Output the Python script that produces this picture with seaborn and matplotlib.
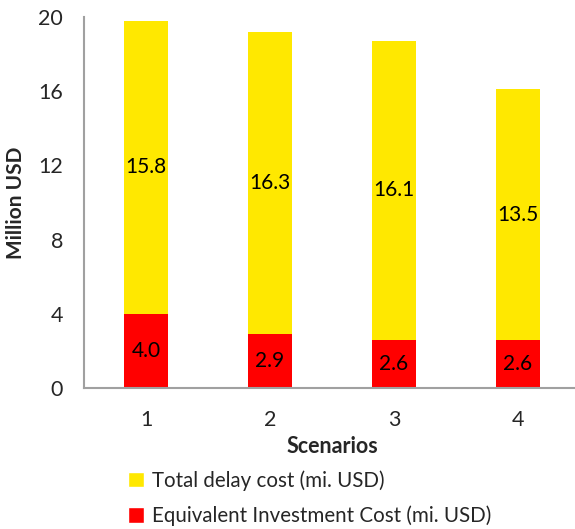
import matplotlib
matplotlib.use("Agg")
import matplotlib.pyplot as plt
import seaborn as sns
import pandas as pd
from matplotlib.patches import Patch

scenarios = ["1", "2", "3", "4"]
investment = [4.0, 2.9, 2.6, 2.6]
delay = [15.8, 16.3, 16.1, 13.5]
yticks = [0, 4, 8, 12, 16, 20]

YELLOW = "#FFE800"
RED = "#FF0000"

sns.set_theme(style="white")
plt.rcParams["font.family"] = ["Lato", "DejaVu Sans"]

df = pd.DataFrame({"Scenario": scenarios, "Investment": investment, "Delay": delay})
df["Total"] = df["Investment"] + df["Delay"]

fig = plt.figure(figsize=(5.75, 5.29), dpi=100)
ax = fig.add_axes([84/575, (529-388)/529, 496/575, 371/529])

sns.barplot(data=df, x="Scenario", y="Total", color=YELLOW, width=0.355,
            saturation=1, ax=ax, linewidth=0)
sns.barplot(data=df, x="Scenario", y="Investment", color=RED, width=0.355,
            saturation=1, ax=ax, linewidth=0)

for i, (inv, dl) in enumerate(zip(investment, delay)):
    ax.text(i, inv/2, f"{inv:.1f}", ha="center", va="center", fontsize=15, color="black")
    ax.text(i, inv + dl/2, f"{dl:.1f}", ha="center", va="center", fontsize=15, color="black")

ax.set_ylim(0, 20)
ax.set_xlim(-0.5, 3.5)
ax.set_yticks(yticks)
ax.set_yticklabels([str(t) for t in yticks], fontsize=15.5)
ax.tick_params(axis="x", labelsize=15.5, length=0, pad=16)
ax.tick_params(axis="y", length=0, pad=15)
ax.set_xlabel("Scenarios", fontsize=15.5, fontweight="bold", labelpad=4)
ax.set_ylabel("Million USD", fontsize=15, fontweight="bold", labelpad=9)
for s in ["top", "right"]:
    ax.spines[s].set_visible(False)
for s in ["left", "bottom"]:
    ax.spines[s].set_color("#A0A0A0")
    ax.spines[s].set_linewidth(1.5)

handles = [Patch(facecolor=YELLOW, label="Total delay cost (mi. USD)"),
           Patch(facecolor=RED, label="Equivalent Investment Cost (mi. USD)")]
fig.legend(handles=handles, loc="upper left", bbox_to_anchor=(128/575, 1 - 470/529),
           frameon=False, fontsize=14.8, handlelength=0.8, handleheight=0.8,
           handletextpad=0.35, labelspacing=0.72, borderaxespad=0, borderpad=0)

fig.savefig("out.png", dpi=100)
